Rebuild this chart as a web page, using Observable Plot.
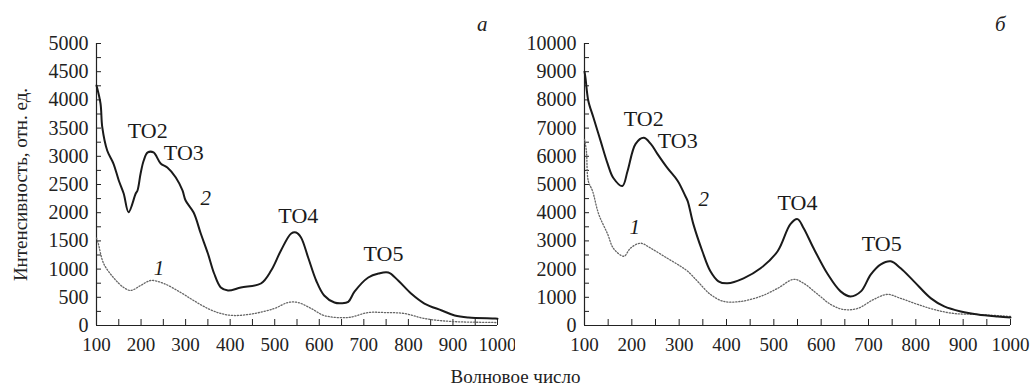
<!DOCTYPE html>
<html><head><meta charset="utf-8">
<script src="https://cdn.jsdelivr.net/npm/d3@7"></script>
<script src="https://cdn.jsdelivr.net/npm/@observablehq/plot@0.6"></script>
<style>
body{margin:0;background:#fff;font-family:'Liberation Serif';}
#wrap{position:relative;width:1031px;height:392px;}
.panel{position:absolute;top:0;}
#xtitle{position:absolute;left:0;width:1031px;top:366px;text-align:center;font-size:19px;color:#222;font-family:'Liberation Serif';}
</style></head>
<body><div id="wrap"><div id="pa" class="panel" style="left:0"></div><div id="pb" class="panel" style="left:515px"></div><div id="xtitle">Волновое число</div></div>
<script>
// Panel а, curve 2 (solid)
const a2x = [100,109,113,124,138,150,161,172,188,192,199,206,215,228,244,259,278,293,300,318,334,350,364,379,395,424,469,492,514,537,548,559,575,593,611,634,650,665,679,710,733,755,777,806,836,875,904,935,995,1000];
const a2y = [4255,3936,3511,3103,2872,2571,2340,2009,2340,2394,2695,2926,3068,3068,2872,2801,2624,2394,2216,2003,1631,1277,922,674,621,674,745,975,1330,1631,1649,1560,1206,798,532,408,395,420,600,851,922,940,798,567,390,266,177,142,124,120];
// Panel а, curve 1 (dotted)
const a1x = [100,104,116,138,161,177,199,222,251,289,318,350,379,409,454,499,530,552,582,611,665,710,746,791,836,897,995,1000];
const a1y = [1550,1454,1099,851,674,621,709,798,745,585,443,301,213,177,213,301,408,408,301,177,142,230,230,213,124,71,53,50];
// Panel б, curve 2 (solid)
const b2x = [100,102,108,119,134,149,161,180,191,208,225,240,254,275,297,313,318,330,349,366,383,402,436,472,508,535,550,563,584,614,641,662,684,705,726,747,768,796,832,860,895,931,973,1000];
const b2y = [9000,8790,7972,7367,6548,5730,5231,4947,5480,6441,6655,6441,6085,5587,5125,4591,4413,3594,2633,1922,1566,1495,1673,2028,2633,3594,3772,3452,2740,1815,1210,1032,1210,1815,2171,2278,2028,1566,961,676,498,391,320,285];
// Panel б, curve 1 (dotted)
const b1x = [100,104,108,117,130,149,161,183,197,218,240,275,303,318,339,366,394,430,472,508,542,563,593,620,647,677,711,740,768,804,838,880,931,1000];
const b1y = [6600,6192,5125,4769,3950,3238,2740,2456,2740,2918,2740,2384,2100,1922,1566,1103,854,854,1032,1317,1637,1495,1103,747,569,605,925,1103,961,747,569,427,391,320];
// Annotations
const aLabX = [215,296,553,744];
const aLabY = [3450,3067,1950,1277];
const bLabX = [225,297,550,728];
const bLabY = [7330,6550,4340,2880];
const peakNames = ["TO2","TO3","TO4","TO5"];
const aNumX = [345,240], aNumY = [2250,1010];
const bNumX = [352,206], bNumY = [4480,3490];
const curveNames = ["2","1"];
// Ticks
const xTickLabels = [100,200,300,400,500,600,700,800,900,1000];
const xTicksAll = d3.range(100,1001,50);
const aYLabels = [0,500,1000,1500,2000,2500,3000,3500,4000,4500,5000];
const aYTicks = d3.range(0,5001,250);
const bYLabels = [0,1000,2000,3000,4000,5000,6000,7000,8000,9000,10000];
const bYTicks = d3.range(0,10001,500);

const zip = (xs, ys) => xs.map((x,i)=>({x, y: ys[i]}));
const labs = (xs, ys, ts) => xs.map((x,i)=>({x, y: ys[i], t: ts[i]}));
const FONT = "Liberation Serif";

function panel({w, ml, mr, ymax, yLabels, yTicks, c2, c1, peaks, nums, letter, letterDx, ylabel}) {
  return Plot.plot({
    width: w, height: 362,
    marginLeft: ml, marginRight: mr, marginTop: 43, marginBottom: 37,
    style: {"font-family": FONT, "font-size": "19px", color: "#222", background: "white"},
    x: {domain: [100,1000]},
    y: {domain: [0,ymax]},
    marks: [
      Plot.axisX({ticks: xTickLabels, tickSize: 0, tickPadding: 12, tickFormat: d=>String(d), label: null, fontSize: 19, fontFamily: FONT, fontVariant: "normal"}),
      Plot.axisX({ticks: xTicksAll, tickSize: -6, text: null, label: null}),
      Plot.axisY({ticks: yLabels, tickSize: 0, tickPadding: 8, tickFormat: d=>String(d), fontSize: 20, fontFamily: FONT, fontVariant: "normal",
        label: ylabel, labelAnchor: "center", labelArrow: "none", labelOffset: ml - 13}),
      Plot.axisY({ticks: yTicks, tickSize: -5, text: null, label: null}),
      Plot.ruleY([0], {stroke: "#222", strokeWidth: 1.2}),
      Plot.ruleX([100], {stroke: "#222", strokeWidth: 1.2}),
      Plot.line(c1, {x: "x", y: "y", curve: "catmull-rom", stroke: "#666", strokeWidth: 1.3, strokeDasharray: "1.2,1.8"}),
      Plot.line(c2, {x: "x", y: "y", curve: "catmull-rom", stroke: "#1a1a1a", strokeWidth: 2}),
      Plot.text(peaks, {x: "x", y: "y", text: "t", fontSize: 22, fontFamily: FONT, fill: "#1a1a1a"}),
      Plot.text(nums, {x: "x", y: "y", text: "t", fontSize: 21, fontFamily: FONT, fontStyle: "italic", fill: "#1a1a1a"}),
      Plot.text([letter], {frameAnchor: "top-right", lineAnchor: "middle", text: d=>d, dx: letterDx, dy: -19, fontSize: 21, fontFamily: FONT, fontStyle: "italic", fill: "#222"})
    ]
  });
}

const pa = panel({
  w: 515, ml: 96, mr: 18, ymax: 5000, yLabels: aYLabels, yTicks: aYTicks,
  c2: zip(a2x,a2y), c1: zip(a1x,a1y),
  peaks: labs(aLabX,aLabY,peakNames), nums: labs(aNumX,aNumY,curveNames),
  letter: "а", letterDx: -10, ylabel: "Интенсивность, отн. ед."
});
const pb = panel({
  w: 516, ml: 69, mr: 21, ymax: 10000, yLabels: bYLabels, yTicks: bYTicks,
  c2: zip(b2x,b2y), c1: zip(b1x,b1y),
  peaks: labs(bLabX,bLabY,peakNames), nums: labs(bNumX,bNumY,curveNames),
  letter: "б", letterDx: -5, ylabel: null
});
document.getElementById("pa").append(pa);
document.getElementById("pb").append(pb);
for (const svg of [pa, pb]) {
  svg.style.setProperty("font-family", FONT, "important");
  svg.querySelectorAll("text, tspan, g").forEach(t => t.style.setProperty("font-family", FONT, "important"));
}
pa.querySelectorAll("[aria-label='y-axis label'] text").forEach(t => t.setAttribute("font-size", 19));
</script>
</body></html>
